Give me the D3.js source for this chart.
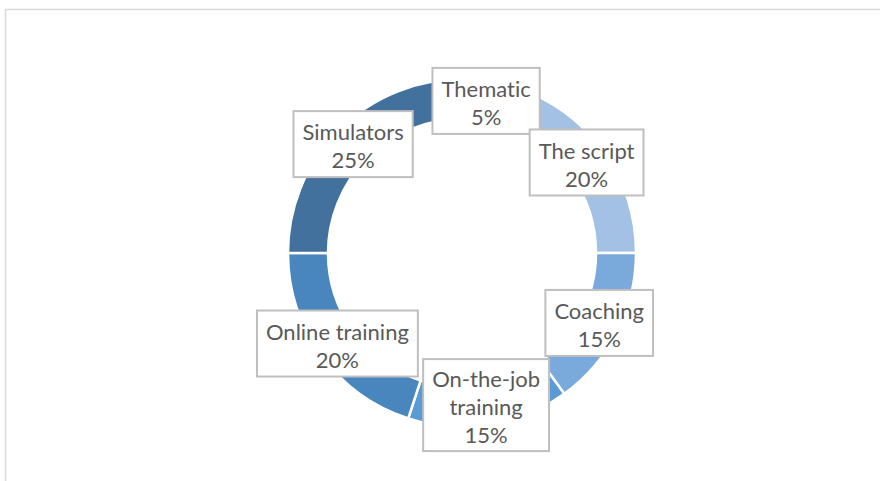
<!DOCTYPE html>
<html>
<head>
<meta charset="utf-8">
<script src="https://cdn.jsdelivr.net/npm/d3@7"></script>
<style>
	body { margin: 0; background: #fff; }
	svg { display: block; }
	.label text { font-family: Lato, 'Noto Sans', sans-serif; fill: #595959; font-variant-ligatures: none; }
</style>
</head>
<body>
<div class="chart"></div>
<script>
const WIDTH = 880
const HEIGHT = 481

const categories = ['Thematic', 'The script', 'Coaching', 'On-the-job training', 'Online training', 'Simulators']
const values = [5, 20, 15, 15, 20, 25]
const labelLines = [['Thematic'], ['The script'], ['Coaching'], ['On-the-job', 'training'], ['Online training'], ['Simulators']]
const COLORS = ['#bed2ed', '#a3c0e5', '#7aa9db', '#5b9bd5', '#4a86be', '#41719c']

const FONT_SIZE = 22
const LINE_H = 28
const PAD_X = 9

const cx = 462
const cy = 253
const outerR = 174
const innerR = 134

const data = categories.map((c, i) => ({
	name: c,
	value: values[i],
	lines: labelLines[i].concat([values[i] + '%']),
	color: COLORS[i],
}))

const svg = d3.select('.chart').append('svg')
	.attr('width', WIDTH)
	.attr('height', HEIGHT)

// frame, cut off at right and bottom like the source
svg.append('rect')
	.attr('x', 5.5)
	.attr('y', 9.5)
	.attr('width', WIDTH)
	.attr('height', HEIGHT)
	.attr('fill', 'none')
	.attr('stroke', '#d9d9d9')
	.attr('stroke-width', 1.5)

const pie = d3.pie()
	.value(d => d.value)
	.sort(null)

const arc = d3.arc()
	.innerRadius(innerR)
	.outerRadius(outerR)

const arcs = pie(data)

const g = svg.append('g')
	.attr('transform', `translate(${cx}, ${cy})`)

g.selectAll('.slice').data(arcs)
	.enter().append('path')
	.attr('class', 'slice')
	.attr('d', arc)
	.attr('fill', d => d.data.color)
	.attr('stroke', '#fff')
	.attr('stroke-width', 2.5)

const label = g.selectAll('.label').data(arcs)
	.enter().append('g')
	.attr('class', 'label')
	.attr('transform', d => `translate(${arc.centroid(d)})`)

const box = label.append('rect')
	.attr('fill', '#fff')
	.attr('stroke', '#bfbfbf')
	.attr('stroke-width', 2)

label.append('text')
	.attr('text-anchor', 'middle')
	.attr('font-size', FONT_SIZE)
	.each(function(d) {
		const n = d.data.lines.length
		const t = d3.select(this)
		d.data.lines.forEach((line, i) => {
			t.append('tspan')
				.attr('x', 0)
				.attr('y', (i - (n - 1) / 2) * LINE_H + 2)
				.attr('dy', '0.38em')
				.text(line)
		})
	})

box.each(function(d) {
	const textW = d3.select(this.parentNode).select('text').node().getBBox().width
	const w = textW + PAD_X * 2
	const h = d.data.lines.length * 26 + 14
	d3.select(this)
		.attr('x', -w / 2)
		.attr('y', -h / 2)
		.attr('width', w)
		.attr('height', h)
})
</script>
</body>
</html>
